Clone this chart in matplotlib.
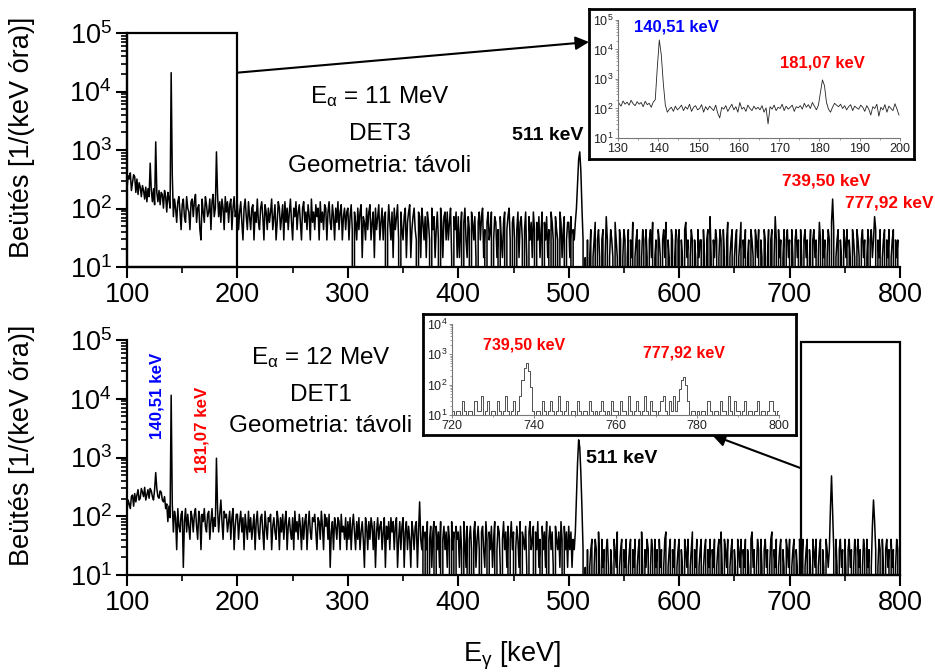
import numpy as np
import matplotlib
matplotlib.use('Agg')
import matplotlib.pyplot as plt
from matplotlib.patches import Rectangle
from matplotlib.ticker import MultipleLocator, LogLocator, NullFormatter

plt.rcParams['font.family'] = ['Liberation Sans', 'DejaVu Sans']
plt.rcParams['mathtext.fontset'] = 'custom'
plt.rcParams['mathtext.rm'] = 'Liberation Sans'
plt.rcParams['mathtext.it'] = 'Liberation Sans:italic'
plt.rcParams['mathtext.bf'] = 'Liberation Sans:bold'

# ---- spectra: counts per 1 keV bin, 100..799 keV ----
# E_alpha = 11 MeV, DET3
top_100 = [15, 25, 22, 28, 14, 19, 26, 24, 13, 22,
           12, 19, 16, 11, 17, 14, 10, 16, 9, 15,
           11, 41, 14, 9, 15, 8, 95, 13, 9, 14,
           8, 13, 12, 7, 14, 11, 6, 13, 10, 7,
           1450, 26, 5, 10, 7, 4, 9, 11, 6, 3,
           8, 10, 5, 4, 11, 7, 6, 3, 9, 10,
           5, 9, 12, 4, 7, 8, 3, 2, 10, 6,
           4, 11, 8, 5, 6, 10, 3, 9, 12, 5,
           7, 64, 12, 5, 9, 4, 10, 7, 3, 11,
           6, 9, 4, 8, 10, 3, 7, 11, 5, 6]
top_200 = [8, 3, 6, 9, 4, 2, 7, 10, 5, 3,
           9, 5, 3, 7, 8, 2, 6, 4, 10, 4,
           3, 7, 9, 5, 2, 8, 6, 3, 7, 4,
           6, 10, 3, 5, 8, 2, 4, 9, 7, 3,
           5, 8, 2, 9, 4, 7, 3, 6, 10, 4,
           2, 7, 5, 9, 3, 6, 8, 4, 2, 7,
           9, 4, 6, 3, 8, 5, 2, 10, 4, 6,
           3, 8, 5, 7, 2, 9, 4, 6, 3, 8,
           7, 2, 6, 9, 4, 3, 8, 5, 2, 7,
           4, 9, 3, 6, 8, 2, 5, 7, 3, 6]
top_300 = [7, 2, 5, 8, 3, 0, 6, 4, 2, 7,
           3, 6, 8, 1, 5, 4, 2, 7, 3, 6,
           8, 2, 4, 6, 1, 7, 3, 5, 8, 2,
           4, 7, 2, 5, 6, 0, 3, 8, 4, 2,
           6, 1, 7, 3, 5, 8, 2, 0, 6, 3,
           2, 5, 7, 1, 4, 6, 8, 1, 3, 5,
           7, 3, 2, 0, 6, 5, 1, 7, 4, 2,
           5, 1, 6, 4, 2, 0, 7, 3, 5, 1,
           3, 6, 2, 0, 7, 4, 1, 5, 6, 2,
           6, 2, 4, 7, 1, 0, 5, 3, 6, 1]
top_400 = [5, 1, 3, 6, 0, 4, 7, 2, 1, 5,
           3, 0, 6, 4, 2, 5, 1, 0, 4, 6,
           2, 5, 7, 1, 3, 0, 4, 6, 2, 3,
           6, 0, 2, 5, 4, 1, 3, 0, 5, 2,
           1, 4, 6, 0, 3, 5, 7, 2, 0, 4,
           5, 2, 0, 3, 6, 1, 4, 5, 2, 0,
           3, 6, 1, 0, 5, 2, 4, 1, 6, 3,
           0, 4, 2, 5, 1, 3, 6, 0, 4, 2,
           5, 1, 3, 0, 6, 4, 2, 0, 5, 3,
           2, 0, 6, 4, 1, 3, 5, 0, 2, 4]
top_500 = [4, 1, 5, 0, 3, 2, 4, 7, 18, 48,
           64, 30, 7, 2, 0, 1, 0, 2, 0, 1,
           3, 0, 1, 2, 4, 0, 2, 3, 1, 0,
           2, 3, 0, 1, 5, 2, 0, 1, 3, 2,
           1, 0, 4, 2, 1, 0, 3, 2, 0, 1,
           3, 2, 0, 1, 3, 0, 2, 1, 4, 0,
           1, 2, 3, 0, 2, 0, 1, 3, 2, 0,
           3, 1, 0, 2, 3, 1, 4, 0, 1, 2,
           0, 3, 2, 1, 0, 2, 3, 1, 4, 0,
           2, 1, 0, 3, 2, 0, 1, 3, 0, 2]
top_600 = [3, 0, 2, 1, 0, 3, 4, 1, 2, 0,
           1, 3, 2, 0, 2, 1, 0, 3, 1, 2,
           2, 0, 3, 1, 0, 2, 3, 0, 5, 1,
           0, 2, 1, 3, 2, 0, 1, 3, 2, 0,
           3, 1, 0, 2, 4, 0, 1, 2, 3, 0,
           1, 2, 3, 0, 1, 2, 4, 0, 2, 1,
           3, 0, 1, 2, 0, 3, 2, 1, 0, 3,
           2, 1, 3, 0, 2, 1, 0, 3, 2, 0,
           1, 3, 0, 2, 3, 0, 1, 5, 2, 0,
           3, 1, 2, 0, 1, 3, 0, 2, 3, 1]
top_700 = [2, 0, 3, 1, 0, 2, 3, 1, 2, 0,
           3, 1, 0, 2, 3, 1, 2, 0, 1, 3,
           0, 2, 3, 1, 2, 0, 1, 4, 2, 0,
           3, 1, 2, 0, 1, 3, 2, 0, 4, 10,
           3, 0, 1, 2, 3, 0, 2, 1, 0, 3,
           2, 1, 3, 0, 2, 1, 0, 3, 2, 1,
           0, 3, 2, 1, 0, 2, 3, 1, 2, 0,
           1, 3, 0, 2, 3, 1, 2, 5, 3, 0,
           2, 1, 3, 0, 1, 2, 3, 0, 2, 1,
           3, 0, 1, 2, 3, 0, 2, 1, 2, 0]

# E_alpha = 12 MeV, DET1
bot_100 = [9, 14, 12, 10, 16, 17, 11, 18, 13, 17,
           21, 14, 15, 22, 19, 16, 23, 14, 17, 21,
           15, 22, 20, 16, 14, 21, 41, 22, 16, 15,
           20, 19, 14, 13, 16, 10, 12, 6, 11, 7,
           850, 12, 4, 9, 7, 2, 10, 5, 4, 8,
           9, 1, 6, 10, 4, 8, 5, 3, 9, 7,
           4, 8, 10, 5, 3, 9, 7, 2, 8, 6,
           10, 5, 4, 8, 9, 3, 6, 10, 4, 7,
           5, 72, 10, 4, 8, 14, 6, 3, 9, 7,
           8, 4, 6, 9, 3, 7, 10, 2, 5, 8]
bot_200 = [8, 3, 6, 9, 4, 7, 2, 8, 5, 3,
           9, 4, 7, 3, 5, 8, 2, 6, 9, 4,
           3, 7, 8, 4, 2, 9, 5, 3, 7, 6,
           8, 2, 5, 7, 4, 3, 9, 6, 2, 7,
           4, 8, 3, 6, 9, 2, 5, 7, 4, 3,
           7, 2, 9, 4, 6, 3, 8, 5, 2, 7,
           3, 6, 8, 2, 5, 9, 4, 3, 7, 6,
           8, 4, 2, 7, 6, 3, 9, 5, 2, 8,
           5, 7, 3, 8, 1, 4, 6, 2, 7, 5,
           3, 7, 6, 2, 8, 4, 5, 3, 7, 2]
bot_300 = [6, 3, 7, 2, 5, 8, 4, 2, 6, 3,
           7, 2, 4, 6, 3, 1, 7, 5, 2, 6,
           3, 7, 5, 2, 6, 1, 4, 7, 3, 5,
           6, 2, 4, 7, 1, 5, 3, 6, 2, 7,
           4, 6, 2, 5, 7, 1, 3, 6, 2, 5,
           7, 1, 4, 6, 2, 5, 3, 1, 6, 4,
           2, 5, 6, 1, 4, 13, 3, 2, 5, 0,
           4, 2, 6, 0, 3, 5, 1, 4, 6, 0,
           5, 2, 4, 1, 6, 0, 3, 5, 2, 4,
           1, 5, 3, 0, 6, 2, 4, 0, 5, 3]
bot_400 = [4, 1, 5, 2, 0, 6, 3, 1, 5, 0,
           3, 5, 2, 0, 4, 6, 1, 3, 5, 2,
           0, 4, 5, 2, 1, 6, 3, 0, 4, 2,
           5, 1, 3, 6, 0, 2, 5, 4, 1, 0,
           3, 6, 2, 4, 1, 5, 0, 3, 6, 2,
           4, 0, 2, 5, 3, 1, 6, 0, 4, 3,
           2, 5, 1, 0, 4, 6, 2, 3, 5, 0,
           4, 2, 6, 1, 3, 0, 5, 2, 4, 1,
           6, 0, 3, 5, 2, 4, 1, 0, 5, 3,
           2, 4, 1, 6, 3, 0, 5, 2, 4, 1]
bot_500 = [5, 2, 4, 1, 3, 2, 4, 15, 60, 148,
           110, 40, 10, 2, 0, 1, 0, 2, 0, 1,
           2, 3, 0, 1, 3, 2, 0, 4, 1, 0,
           3, 1, 2, 0, 2, 3, 1, 0, 2, 1,
           0, 3, 2, 1, 4, 0, 1, 2, 3, 0,
           2, 1, 3, 0, 1, 2, 3, 0, 2, 1,
           3, 0, 1, 2, 3, 0, 4, 1, 0, 2,
           1, 3, 2, 0, 1, 3, 2, 0, 3, 1,
           2, 0, 3, 1, 2, 0, 1, 3, 4, 0,
           1, 2, 3, 0, 2, 1, 3, 0, 1, 2]
bot_600 = [3, 0, 2, 1, 0, 3, 2, 1, 3, 0,
           1, 2, 4, 0, 2, 1, 3, 0, 1, 2,
           3, 0, 1, 2, 3, 0, 2, 1, 3, 0,
           2, 1, 3, 0, 1, 2, 3, 0, 4, 1,
           0, 3, 2, 1, 3, 0, 1, 2, 3, 0,
           2, 1, 0, 3, 2, 1, 3, 0, 2, 1,
           3, 0, 2, 1, 0, 3, 4, 1, 2, 0,
           1, 3, 2, 0, 3, 1, 0, 2, 3, 1,
           2, 0, 1, 3, 4, 0, 2, 1, 3, 0,
           1, 2, 3, 0, 2, 1, 0, 3, 2, 1]
bot_700 = [3, 0, 1, 2, 3, 0, 2, 1, 0, 3,
           2, 1, 3, 0, 1, 2, 3, 0, 2, 1,
           0, 3, 2, 1, 3, 0, 1, 2, 3, 0,
           2, 1, 0, 3, 2, 1, 2, 10, 36, 8,
           2, 0, 3, 1, 0, 2, 3, 1, 2, 0,
           3, 1, 0, 2, 3, 1, 2, 0, 1, 3,
           2, 0, 3, 1, 2, 0, 1, 3, 2, 0,
           3, 1, 2, 0, 1, 5, 14, 6, 2, 0,
           1, 3, 2, 0, 3, 1, 0, 2, 3, 1,
           2, 0, 3, 1, 2, 0, 1, 3, 2, 0]

top_norm = 14.5   # 1/(keV h) per count
bot_norm = 13.5

# inset 1: 130-200 keV, 0.5 keV bins, already in 1/(keV h)
ins1_vals = [150, 120, 180, 140, 165, 130, 190, 145, 125, 170,
             140, 160, 115, 175, 135, 150, 110, 165, 200, 2400,
             21000, 6500, 700, 130, 75, 95, 110, 80, 120, 90,
             105, 130, 85, 115, 95, 140, 80, 110, 125, 90,
             100, 135, 75, 115, 90, 120, 100, 85, 130, 70,
             48, 110, 95, 125, 80, 105, 140, 90, 115, 75,
             160, 95, 110, 80, 130, 100, 85, 120, 95, 110,
             90, 125, 75, 105, 30, 115, 95, 130, 85, 110,
             100, 140, 85, 120, 95, 110, 130, 80, 115, 105,
             125, 95, 150, 110, 135, 100, 160, 120, 90, 130,
             350, 930, 600, 160, 95, 75, 110, 150, 130, 115,
             140, 100, 125, 90, 115, 135, 85, 120, 105, 95,
             130, 110, 80, 125, 95, 60, 115, 100, 140, 55,
             110, 90, 135, 75, 120, 100, 85, 145, 95, 60]

# inset 2: 720-800 keV, 0.5 keV bins, counts
ins2_counts = [1, 0, 1, 1, 0, 2, 1, 0, 1, 1,
               0, 2, 1, 1, 3, 0, 1, 2, 0, 1,
               1, 0, 2, 1, 0, 1, 3, 1, 0, 1,
               2, 0, 1, 3, 10, 26, 36, 20, 6, 1,
               0, 1, 1, 0, 2, 1, 0, 1, 2, 1,
               0, 1, 3, 1, 0, 1, 2, 0, 1, 1,
               0, 2, 1, 0, 1, 1, 0, 2, 1, 0,
               1, 0, 1, 2, 1, 0, 1, 0, 2, 1,
               1, 0, 2, 1, 1, 0, 3, 1, 0, 1,
               2, 1, 0, 1, 3, 1, 0, 2, 1, 1,
               0, 1, 2, 3, 1, 0, 2, 1, 3, 1,
               2, 5, 10, 13, 7, 2, 0, 1, 1, 0,
               1, 0, 1, 1, 0, 2, 1, 0, 1, 1,
               0, 2, 1, 1, 0, 3, 1, 0, 2, 1,
               1, 0, 1, 2, 0, 1, 1, 0, 1, 2,
               0, 1, 1, 0, 1, 2, 2, 1, 0, 1]
ins2_norm = 14.0

energy = np.arange(100, 800)
top_y = np.array(top_100 + top_200 + top_300 + top_400 + top_500 + top_600 + top_700) * top_norm
bot_y = np.array(bot_100 + bot_200 + bot_300 + bot_400 + bot_500 + bot_600 + bot_700) * bot_norm
ins1_x = np.arange(130.25, 200, 0.5)
ins2_x = np.arange(720.25, 800, 0.5)
ins2_y = np.array(ins2_counts) * ins2_norm

W, H = 935, 672
fig = plt.figure(figsize=(W / 100, H / 100), dpi=100)


def px_axes(x0, y0, x1, y1):
    return fig.add_axes([x0 / W, 1 - y1 / H, (x1 - x0) / W, (y1 - y0) / H])


def ftext(x, y, s, **kw):
    return fig.text(x / W, 1 - y / H, s, **kw)


def style_main(ax):
    ax.set_yscale('log')
    ax.set_xlim(100, 800)
    ax.set_ylim(10, 1e5)
    for sp in ('top', 'right'):
        ax.spines[sp].set_visible(False)
    for sp in ('left', 'bottom'):
        ax.spines[sp].set_linewidth(1.6)
    ax.xaxis.set_major_locator(MultipleLocator(100))
    ax.xaxis.set_minor_locator(MultipleLocator(50))
    ax.yaxis.set_major_locator(LogLocator(base=10, numticks=10))
    ax.yaxis.set_minor_locator(LogLocator(base=10, subs=np.arange(2, 10), numticks=10))
    ax.yaxis.set_minor_formatter(NullFormatter())
    ax.tick_params(which='major', direction='out', length=8, width=1.5, labelsize=19.5, pad=3)
    ax.tick_params(which='minor', direction='out', length=4, width=1.2)


def style_inset(ax, xlim, ylim, xmajor, xminor):
    ax.set_yscale('log')
    ax.set_xlim(*xlim)
    ax.set_ylim(*ylim)
    ax.patch.set_alpha(0)
    for sp in ('top', 'right'):
        ax.spines[sp].set_visible(False)
    for sp in ('left', 'bottom'):
        ax.spines[sp].set_linewidth(0.8)
        ax.spines[sp].set_color('#777777')
    ax.xaxis.set_major_locator(MultipleLocator(xmajor))
    ax.xaxis.set_minor_locator(MultipleLocator(xminor))
    ax.yaxis.set_major_locator(LogLocator(base=10, numticks=10))
    ax.yaxis.set_minor_locator(LogLocator(base=10, subs=np.arange(2, 10), numticks=10))
    ax.yaxis.set_minor_formatter(NullFormatter())
    ax.tick_params(which='major', direction='out', length=2.5, width=0.6, color='#777777',
                   labelsize=9, pad=1, labelcolor='#222222')
    ax.tick_params(which='minor', direction='out', length=1.5, width=0.5, color='#777777')


# ---------- top panel ----------
ax1 = px_axes(127, 33, 900, 267)
ax1.plot(energy, top_y, color='black', lw=1.1)
style_main(ax1)
ax1.add_patch(Rectangle((100, 10), 100, 1e5 - 10, fill=False, lw=1.6, ec='black', clip_on=False))

# ---------- bottom panel ----------
ax2 = px_axes(127, 340, 900, 575)
ax2.plot(energy, bot_y, color='black', lw=1.1)
style_main(ax2)
ax2.add_patch(Rectangle((710, 10), 90, 9.2e4 - 10, fill=False, lw=1.6, ec='black', clip_on=False))

# ---------- inset 1 ----------
fr1 = px_axes(589, 9, 914, 159)
fr1.set_xticks([])
fr1.set_yticks([])
for sp in fr1.spines.values():
    sp.set_linewidth(2)
in1 = px_axes(618, 20, 900, 138)
in1.plot(ins1_x, ins1_vals, color='#222222', lw=0.6)
style_inset(in1, (130, 200), (10, 1e5), 10, 5)

# ---------- inset 2 ----------
fr2 = px_axes(423, 314, 796, 435)
fr2.set_xticks([])
fr2.set_yticks([])
for sp in fr2.spines.values():
    sp.set_linewidth(2)
in2 = px_axes(452, 324, 779, 415)
in2.plot(ins2_x, ins2_y, color='#333333', lw=0.6, drawstyle='steps-mid')
style_inset(in2, (720, 800), (10, 1e4), 20, 10)

# ---------- arrows ----------
arrow = dict(arrowstyle='-|>', color='black', lw=1.5, mutation_scale=20, shrinkA=0, shrinkB=0)
ax1.annotate('', xy=(0, 0.78), xycoords=fr1.transAxes, xytext=(200, 2.1e4),
             textcoords='data', arrowprops=arrow, annotation_clip=False)
ax2.annotate('', xy=(0.775, 0), xycoords=fr2.transAxes, xytext=(710, 660),
             textcoords='data', arrowprops=arrow, annotation_clip=False)

# ---------- texts ----------
big = 17.5
ftext(380, 103, r'E$_{\mathregular{α}}$ = 11 MeV', ha='center', va='baseline', fontsize=big)
ftext(380, 140, 'DET3', ha='center', va='baseline', fontsize=big)
ftext(380, 172, 'Geometria: távoli', ha='center', va='baseline', fontsize=big)
ftext(321, 364, r'E$_{\mathregular{α}}$ = 12 MeV', ha='center', va='baseline', fontsize=big)
ftext(321, 401, 'DET1', ha='center', va='baseline', fontsize=big)
ftext(321, 432, 'Geometria: távoli', ha='center', va='baseline', fontsize=big)

ftext(512, 140, '511 keV', ha='left', va='baseline', fontsize=14, fontweight='bold')
ftext(586, 463, '511 keV', ha='left', va='baseline', fontsize=14, fontweight='bold')
ftext(782, 185, '739,50 keV', ha='left', va='baseline', fontsize=12.4, fontweight='bold', color='red')
ftext(845, 207, '777,92 keV', ha='left', va='baseline', fontsize=12.4, fontweight='bold', color='red')
ftext(634, 32, '140,51 keV', ha='left', va='baseline', fontsize=12, fontweight='bold', color='blue')
ftext(780, 67, '181,07 keV', ha='left', va='baseline', fontsize=12, fontweight='bold', color='red')
ftext(483, 349, '739,50 keV', ha='left', va='baseline', fontsize=11.5, fontweight='bold', color='red')
ftext(643, 358, '777,92 keV', ha='left', va='baseline', fontsize=11.5, fontweight='bold', color='red')
ftext(157, 396, '140,51 keV', ha='center', va='center', rotation=90, fontsize=12.2,
      fontweight='bold', color='blue')
ftext(202, 430, '181,07 keV', ha='center', va='center', rotation=90, fontsize=12.2,
      fontweight='bold', color='red')

ylab = 'Beütés [1/(keV óra)]'
ftext(22, 137, ylab, ha='center', va='center', rotation=90, fontsize=19.5)
ftext(22, 445, ylab, ha='center', va='center', rotation=90, fontsize=19.5)
ftext(512, 662, r'E$_{\mathregular{γ}}$ [keV]', ha='center', va='baseline', fontsize=19.5)

fig.savefig('out.png', dpi=100)
